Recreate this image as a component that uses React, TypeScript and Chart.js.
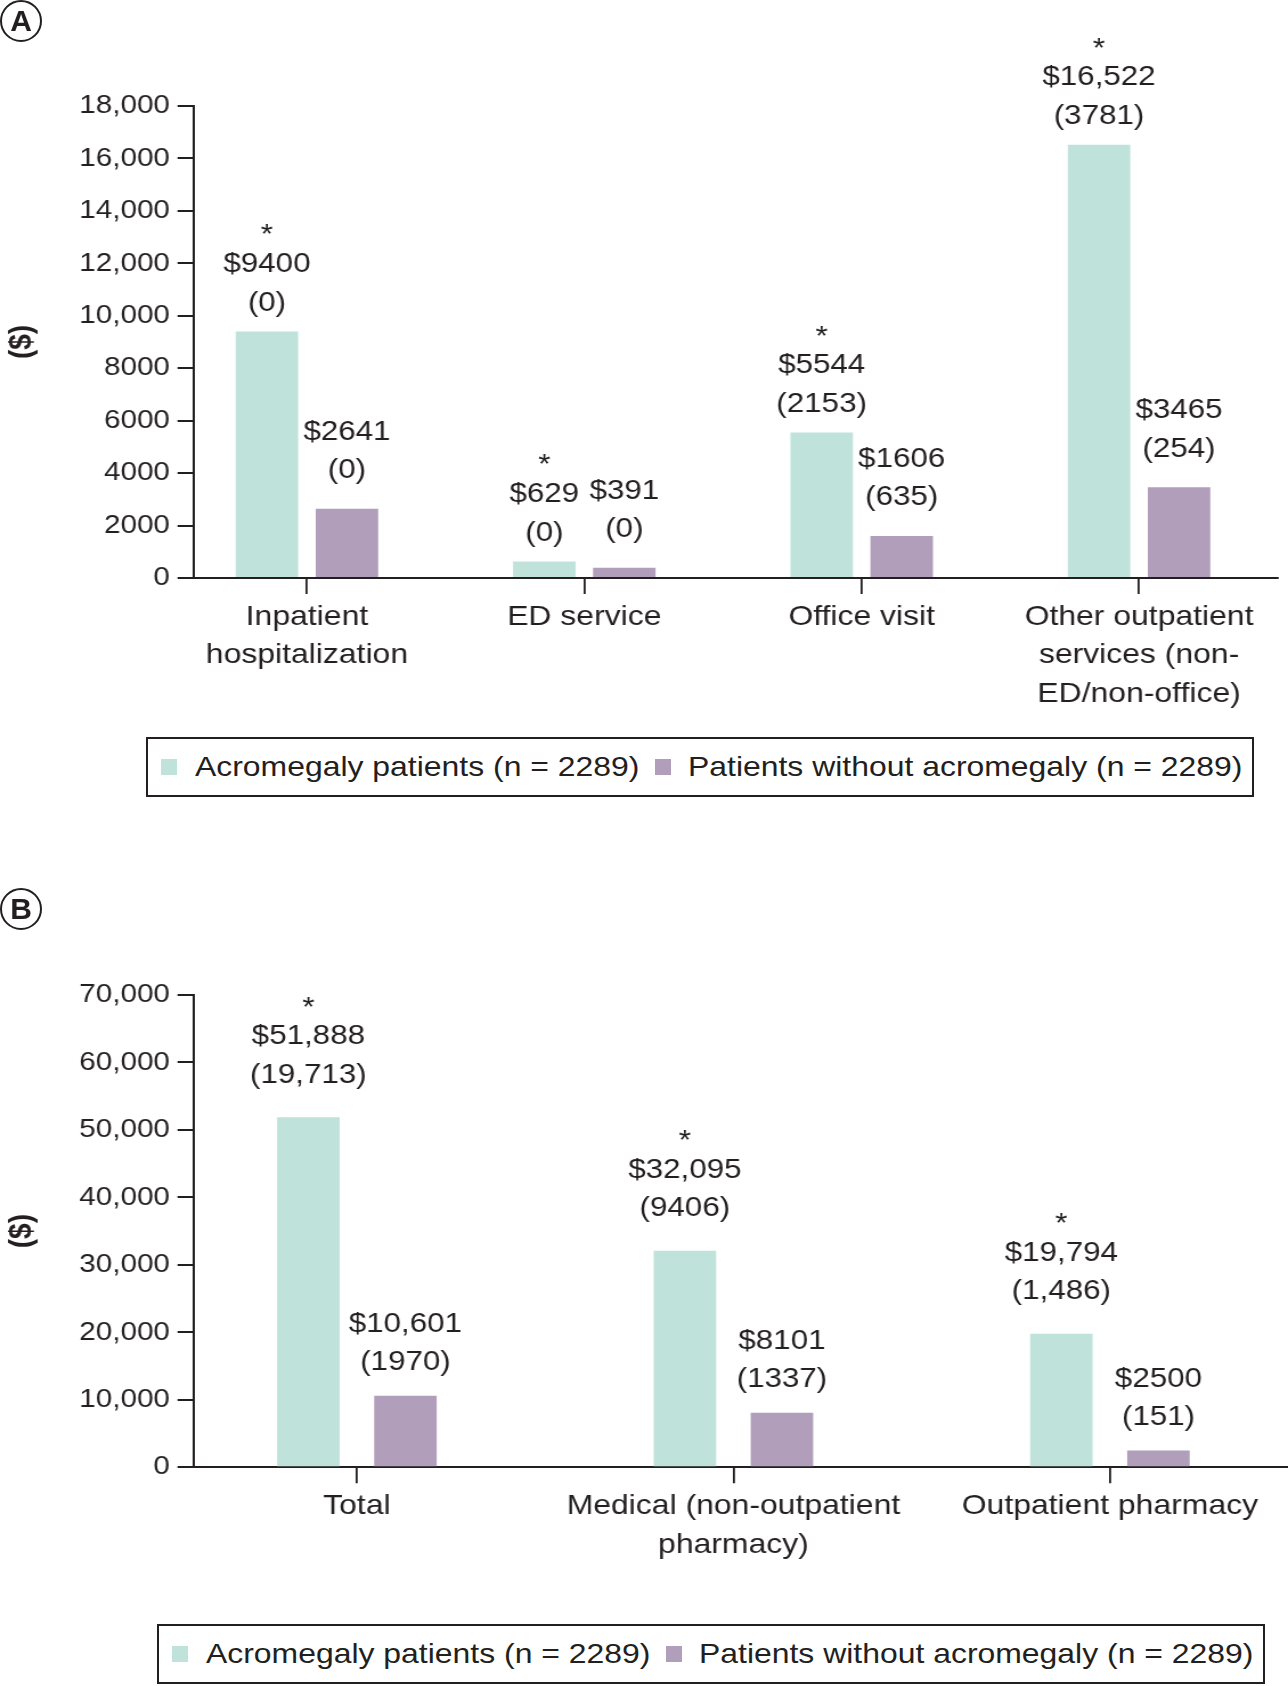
import React, { useEffect, useRef } from "react";
import { Chart, registerables } from "chart.js";

Chart.register(...registerables);

// ---------- data ----------
const seriesNames = ["Acromegaly patients (n = 2289)", "Patients without acromegaly (n = 2289)"];

const categoriesA = [
  ["Inpatient", "hospitalization"],
  ["ED service"],
  ["Office visit"],
  ["Other outpatient", "services (non-", "ED/non-office)"],
];
const acroA = [9400, 629, 5544, 16522];
const nonA = [2641, 391, 1606, 3465];
const acroParenA = ["(0)", "(0)", "(2153)", "(3781)"];
const nonParenA = ["(0)", "(0)", "(635)", "(254)"];
const acroSigA = [true, true, true, true];
const nonSigA = [false, false, false, false];
const yTicksA = [0, 2000, 4000, 6000, 8000, 10000, 12000, 14000, 16000, 18000];

const categoriesB = [["Total"], ["Medical (non-outpatient", "pharmacy)"], ["Outpatient pharmacy"]];
const acroB = [51888, 32095, 19794];
const nonB = [10601, 8101, 2500];
const acroParenB = ["(19,713)", "(9406)", "(1,486)"];
const nonParenB = ["(1970)", "(1337)", "(151)"];
const acroSigB = [true, true, true];
const nonSigB = [false, false, false];
const yTicksB = [0, 10000, 20000, 30000, 40000, 50000, 60000, 70000];

// ---------- style ----------
const PAGE_W = 1288;
const CANVAS_W = 1130;
const CANVAS_H = 720;
const SX = PAGE_W / CANVAS_W;
const FONT = '"Liberation Sans", Arial, Helvetica, sans-serif';
const INK = "#231f20";
const TEAL = "#bfe3db";
const MAUVE = "#b09ebb";

const fmtNum = (v: number) => (v >= 10000 ? v.toLocaleString("en-US") : String(v));
const fmtMoney = (v: number) => "$" + fmtNum(v);

type PanelCfg = {
  categories: string[][];
  acro: number[];
  non: number[];
  acroParen: string[];
  nonParen: string[];
  acroSig: boolean[];
  nonSig: boolean[];
  yTicks: number[];
  xMin: number;
  xMax: number;
  catPct: number;
  barPct: number;
  padTop: number;
  padBottom: number;
  padRight: number;
  gapAcro: number;
  gapNon: number;
};

const panelA: PanelCfg = {
  categories: categoriesA,
  acro: acroA,
  non: nonA,
  acroParen: acroParenA,
  nonParen: nonParenA,
  acroSig: acroSigA,
  nonSig: nonSigA,
  yTicks: yTicksA,
  xMin: -0.409,
  xMax: 3.501,
  catPct: 0.577,
  barPct: 0.781,
  padTop: 106,
  padBottom: 12,
  padRight: (PAGE_W - 1278) / SX,
  gapAcro: 28.5,
  gapNon: 38,
};

const panelB: PanelCfg = {
  categories: categoriesB,
  acro: acroB,
  non: nonB,
  acroParen: acroParenB,
  nonParen: nonParenB,
  acroSig: acroSigB,
  nonSig: nonSigB,
  yTicks: yTicksB,
  xMin: -0.434,
  xMax: 2.473,
  catPct: 0.5155,
  barPct: 0.644,
  padTop: 115,
  padBottom: 2.7,
  padRight: 0,
  gapAcro: 42,
  gapNon: 33,
};

const LABEL_SIZE = 27.5;
const LINE_GAP = 38.5;
const STAR_GAP = 37;

function BarPanel({ cfg, top }: { cfg: PanelCfg; top: number }) {
  const ref = useRef<HTMLCanvasElement | null>(null);
  useEffect(() => {
    const canvas = ref.current;
    if (!canvas) return;
    const series = [
      { values: cfg.acro, paren: cfg.acroParen, sig: cfg.acroSig, gap: cfg.gapAcro },
      { values: cfg.non, paren: cfg.nonParen, sig: cfg.nonSig, gap: cfg.gapNon },
    ];
    const labelPlugin = {
      id: "barLabels",
      afterDatasetsDraw(chart: any) {
        const ctx = chart.ctx;
        ctx.save();
        ctx.fillStyle = INK;
        ctx.textAlign = "center";
        ctx.font = `${LABEL_SIZE}px ${FONT}`;
        series.forEach((s, di) => {
          const meta = chart.getDatasetMeta(di);
          meta.data.forEach((bar: any, i: number) => {
            const x = bar.x;
            const yParen = bar.y - s.gap;
            const yMoney = yParen - LINE_GAP;
            ctx.textBaseline = "middle";
            ctx.fillText(s.paren[i], x, yParen);
            ctx.fillText(fmtMoney(s.values[i]), x, yMoney);
            if (s.sig[i]) {
              ctx.textBaseline = "alphabetic";
              ctx.fillText("*", x, yMoney - STAR_GAP + LABEL_SIZE * 0.58);
            }
          });
        });
        ctx.restore();
      },
    };

    const chart = new Chart(canvas, {
      type: "bar",
      data: {
        datasets: [
          {
            label: seriesNames[0],
            data: cfg.acro.map((v, i) => ({ x: i, y: v })),
            backgroundColor: TEAL,
            borderWidth: 0,
            categoryPercentage: cfg.catPct,
            barPercentage: cfg.barPct,
          },
          {
            label: seriesNames[1],
            data: cfg.non.map((v, i) => ({ x: i, y: v })),
            backgroundColor: MAUVE,
            borderWidth: 0,
            categoryPercentage: cfg.catPct,
            barPercentage: cfg.barPct,
          },
        ],
      },
      options: {
        responsive: false,
        animation: false,
        devicePixelRatio: 1,
        layout: { padding: { top: cfg.padTop, bottom: cfg.padBottom, left: 0, right: cfg.padRight } },
        plugins: { legend: { display: false }, tooltip: { enabled: false }, title: { display: false } },
        scales: {
          x: {
            type: "linear",
            min: cfg.xMin,
            max: cfg.xMax,
            bounds: "data",
            offset: false,
            z: 1,
            afterBuildTicks: (s: any) => {
              s.ticks = cfg.categories.map((_, i) => ({ value: i }));
            },
            afterFit: (s: any) => {
              s.height = 130;
            },
            ticks: {
              autoSkip: false,
              maxRotation: 0,
              minRotation: 0,
              padding: 3.6,
              color: INK,
              font: { family: FONT, size: 28, lineHeight: 1.382 },
              callback: (v: any) => cfg.categories[Math.round(v)] ?? "",
            },
            grid: {
              display: true,
              offset: false,
              drawOnChartArea: false,
              drawTicks: true,
              tickLength: 16,
              color: INK,
              lineWidth: 1.8,
            },
            border: { display: true, color: INK, width: 2 },
          },
          y: {
            type: "linear",
            min: 0,
            max: cfg.yTicks[cfg.yTicks.length - 1],
            afterBuildTicks: (s: any) => {
              s.ticks = cfg.yTicks.map((v) => ({ value: v }));
            },
            afterFit: (s: any) => {
              s.width = 193.5 / SX;
            },
            ticks: {
              autoSkip: false,
              padding: 6.7,
              color: INK,
              font: { family: FONT, size: 26 },
              callback: (v: any) => fmtNum(Number(v)),
            },
            grid: {
              display: true,
              drawOnChartArea: false,
              drawTicks: true,
              tickLength: 14,
              color: INK,
              lineWidth: 2,
            },
            border: { display: true, color: INK, width: 2 },
            title: {
              display: true,
              text: "($)",
              color: INK,
              font: { family: FONT, size: 28, weight: "bold" },
              padding: { top: 2.2, bottom: 0 },
            },
          },
        },
      },
      plugins: [labelPlugin],
    } as any);
    return () => chart.destroy();
  }, [cfg]);

  return (
    <canvas
      ref={ref}
      width={CANVAS_W}
      height={CANVAS_H}
      style={{ position: "absolute", left: 0, top, width: PAGE_W, height: CANVAS_H, display: "block" }}
    />
  );
}

function Legend({ left, top }: { left: number; top: number }) {
  const h = 60;
  const cy = top + h / 2;
  const sq = 16;
  const textStyle: React.CSSProperties = {
    position: "absolute",
    top: cy - 17,
    font: `28px ${FONT}`,
    lineHeight: "34px",
    color: INK,
    whiteSpace: "nowrap",
    transform: `scaleX(${SX})`,
    transformOrigin: "0 50%",
  };
  return (
    <>
      <div
        style={{
          position: "absolute",
          left,
          top,
          width: 1108,
          height: h,
          border: `2px solid ${INK}`,
          boxSizing: "border-box",
        }}
      />
      <div style={{ position: "absolute", left: left + 15, top: cy - sq / 2, width: sq, height: sq, background: TEAL }} />
      <span style={{ ...textStyle, left: left + 48.6 }}>{seriesNames[0]}</span>
      <div style={{ position: "absolute", left: left + 508.7, top: cy - sq / 2, width: sq, height: sq, background: MAUVE }} />
      <span style={{ ...textStyle, left: left + 542 }}>{seriesNames[1]}</span>
    </>
  );
}

function PanelTag({ letter, top }: { letter: string; top: number }) {
  return (
    <div
      style={{
        position: "absolute",
        left: 0,
        top,
        width: 42,
        height: 42,
        border: `2.5px solid ${INK}`,
        borderRadius: "50%",
        boxSizing: "border-box",
        display: "flex",
        alignItems: "center",
        justifyContent: "center",
        font: `bold 30px ${FONT}`,
        lineHeight: 1,
        color: INK,
      }}
    >
      {letter}
    </div>
  );
}

export default function App() {
  useEffect(() => {
    document.body.style.margin = "0";
    document.body.style.background = "#ffffff";
  }, []);
  return (
    <div
      style={{
        position: "absolute",
        left: 0,
        top: 0,
        width: PAGE_W,
        height: 1686,
        background: "#ffffff",
        overflow: "hidden",
      }}
    >
      <BarPanel cfg={panelA} top={0} />
      <BarPanel cfg={panelB} top={880} />
      <PanelTag letter="A" top={0} />
      <PanelTag letter="B" top={888} />
      <Legend left={146} top={736.5} />
      <Legend left={157} top={1623.5} />
    </div>
  );
}
